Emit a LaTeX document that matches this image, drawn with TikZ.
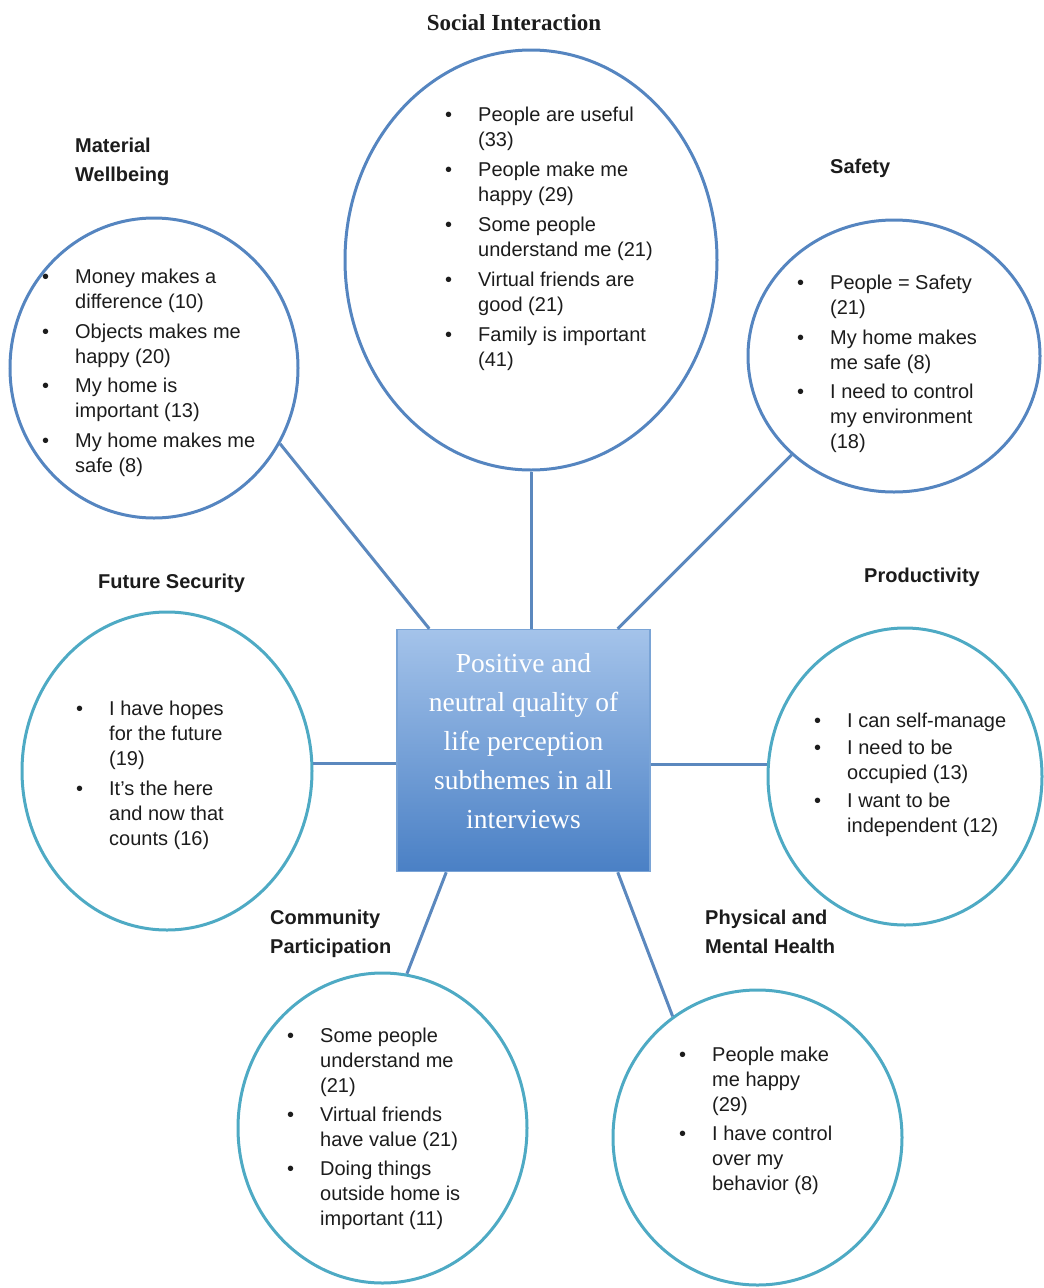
\documentclass[tikz,border=0pt]{standalone}
\usepackage{fontspec}
\setmainfont{Liberation Sans}
\newfontfamily\serifface{Liberation Serif}
\usetikzlibrary{shapes.geometric,calc}

\definecolor{topring}{HTML}{5585C0}
\definecolor{lowring}{HTML}{4EAAC4}
\definecolor{linkblue}{HTML}{5B88BE}
\definecolor{boxtop}{HTML}{A4C3EA}
\definecolor{boxbot}{HTML}{4A80C5}
\definecolor{boxedge}{HTML}{7AA4D6}
\definecolor{ink}{HTML}{1C1C1C}

% bullet column and continuation indent for the lists
\newcommand\bul{\makebox[33pt][l]{\textbullet}}
\newcommand\contd{\hspace*{33pt}}

\begin{document}
\begin{tikzpicture}[x=1pt,y=-1pt,
  ring/.style={ellipse, draw, line width=3pt, inner sep=0pt},
  upper/.style={ring, draw=topring},
  lower/.style={ring, draw=lowring},
  link/.style={draw=linkblue, line width=3pt},
  title/.style={anchor=north west, inner sep=0pt, align=left, text=ink,
    font=\bfseries\fontsize{20}{28.5}\selectfont},
  items/.style={anchor=north west, inner sep=0pt, align=left, text=ink,
    font=\fontsize{20}{25}\selectfont},
  hub/.style={rectangle, draw=boxedge, line width=1.5pt,
    top color=boxtop, bottom color=boxbot, text=white, align=center,
    minimum width=253pt, minimum height=242pt, inner sep=0pt,
    font=\serifface\fontsize{27.5}{39}\selectfont}
]
\useasboundingbox (0,0) rectangle (1044,1288);

% central theme box
\node[hub] (hub) at (523.5,750.5)
  {Positive and\\ neutral quality of\\ life perception\\ subthemes in all\\ interviews\rule[-20pt]{0pt}{0pt}};

% subtheme rings
\node[upper, minimum width=288pt, minimum height=300pt] (mat) at (154,368) {};
\node[upper, minimum width=372pt, minimum height=420pt] (soc) at (531,260) {};
\node[upper, minimum width=292pt, minimum height=272pt] (saf) at (894,356) {};
\node[lower, minimum width=290pt, minimum height=318pt] (fut) at (167,771) {};
\node[lower, minimum width=274pt, minimum height=297pt] (pro) at (905,776.5) {};
\node[lower, minimum width=289pt, minimum height=310pt] (com) at (382.5,1128) {};
\node[lower, minimum width=289pt, minimum height=295pt] (phy) at (757.5,1137.5) {};

% connectors from the box to each ring
\draw[link] ([xshift=33pt]hub.north west) -- (mat.-31);
\draw[link] (soc.south |- hub.north) -- (soc.south);
\draw[link] ([xshift=-33pt]hub.north east) -- (saf.224);
\draw[link] (fut.3 -| hub.west) -- (fut.3);
\draw[link] (pro.175 -| hub.east) -- (pro.175);
\draw[link] ([xshift=50pt]hub.south west) -- (com.81);
\draw[link] ([xshift=-33pt]hub.south east) -- (phy.125);

% titles
\node[anchor=center, inner sep=0pt, text=ink,
  font=\serifface\bfseries\fontsize{23}{28}\selectfont] (tsoc) at (514,23) {Social Interaction};
\node[title] (tmat) at (75,138) {Material\\Wellbeing};
\node[title] (tsaf) at (830,159) {Safety};
\node[title] (tfut) at (98,574) {Future Security};
\node[title] (tpro) at (864,568) {Productivity};
\node[title] (tcom) at (270,910) {Community\\Participation};
\node[title] (tphy) at (705,910) {Physical and\\Mental Health};

% bullet lists
\node[items] (lmat) at (42,269) {%
  \bul Money makes a\\ \contd difference (10)\\[4.5pt]
  \bul Objects makes me\\ \contd happy (20)\\[4.5pt]
  \bul My home is\\ \contd important (13)\\[4.5pt]
  \bul My home makes me\\ \contd safe (8)};
\node[items] (lsoc) at (445,107) {%
  \bul People are useful\\ \contd (33)\\[5pt]
  \bul People make me\\ \contd happy (29)\\[5pt]
  \bul Some people\\ \contd understand me (21)\\[5pt]
  \bul Virtual friends are\\ \contd good (21)\\[5pt]
  \bul Family is important\\ \contd (41)};
\node[items] (lsaf) at (797,275) {%
  \bul People = Safety\\ \contd (21)\\[4.5pt]
  \bul My home makes\\ \contd me safe (8)\\[4.5pt]
  \bul I need to control\\ \contd my environment\\ \contd (18)};
\node[items] (lfut) at (76,701) {%
  \bul I have hopes\\ \contd for the future\\ \contd (19)\\[4.5pt]
  \bul It’s the here\\ \contd and now that\\ \contd counts (16)};
\node[items] (lpro) at (814,713) {%
  \bul I can self-manage\\[1.5pt]
  \bul I need to be\\ \contd occupied (13)\\[3pt]
  \bul I want to be\\ \contd independent (12)};
\node[items] (lcom) at (287,1028) {%
  \bul Some people\\ \contd understand me\\ \contd (21)\\[4pt]
  \bul Virtual friends\\ \contd have value (21)\\[4pt]
  \bul Doing things\\ \contd outside home is\\ \contd important (11)};
\node[items] (lphy) at (679,1047) {%
  \bul People make\\ \contd me happy\\ \contd (29)\\[4pt]
  \bul I have control\\ \contd over my\\ \contd behavior (8)};
\end{tikzpicture}
\end{document}
